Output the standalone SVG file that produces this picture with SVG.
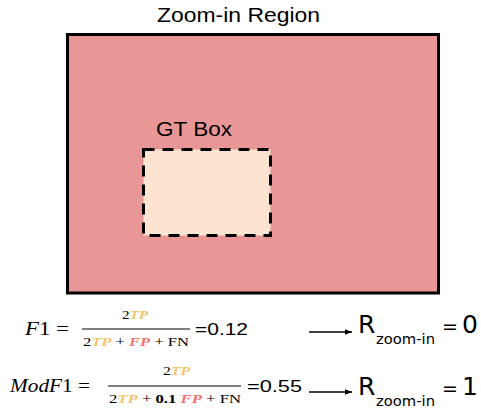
<svg xmlns="http://www.w3.org/2000/svg" width="481" height="413" viewBox="0 0 481 413">
<style>
.sans{font-family:"Liberation Sans",Arial,sans-serif;fill:#000}
.math{font-family:"Liberation Serif","DejaVu Serif",serif;fill:#000}
.it{font-style:italic}
.tp{fill:#F2C56E;font-style:italic;font-weight:bold}
.fp{fill:#F07272;font-style:italic;font-weight:bold}
.r{font-family:"DejaVu Sans","Open Sans",sans-serif;fill:#000}
.conn{stroke:#000;stroke-width:1.3;fill:none}
</style>
<defs>
<marker id="ah" viewBox="0 0 10 10" refX="10" refY="5" markerWidth="7" markerHeight="7" markerUnits="userSpaceOnUse" orient="auto">
<path d="M0,1 L10,5 L0,9 z" fill="#000"/>
</marker>
</defs>
<g id="zoom-region">
<rect x="67.5" y="34.5" width="371" height="258.5" fill="#E99696" stroke="#000" stroke-width="3"/>
<text class="sans" x="238.5" y="22" font-size="20" text-anchor="middle" textLength="163" lengthAdjust="spacingAndGlyphs">Zoom-in Region</text>
</g>
<g id="gt-box">
<rect x="143.5" y="149.5" width="127" height="86" fill="#FCE4D0" stroke="#000" stroke-width="3" stroke-dasharray="11 8"/>
<text class="sans" x="156" y="136" font-size="20" textLength="76" lengthAdjust="spacingAndGlyphs">GT Box</text>
</g>
<g id="f1">
<text class="math" x="25" y="335" font-size="19.5" textLength="44" lengthAdjust="spacingAndGlyphs"><tspan class="it">F</tspan>1 =</text>
<line x1="82" y1="329" x2="190" y2="329" stroke="#000" stroke-width="1"/>
<text class="math" x="122" y="319" font-size="12.5" textLength="26" lengthAdjust="spacingAndGlyphs">2<tspan class="tp">TP</tspan></text>
<text class="math" x="83" y="346" font-size="12.5" textLength="106" lengthAdjust="spacingAndGlyphs">2<tspan class="tp">TP</tspan> + <tspan class="fp">FP</tspan> + FN</text>
<text class="sans" x="195" y="335" font-size="17" textLength="53" lengthAdjust="spacingAndGlyphs">=0.12</text>
</g>
<g id="r1">
<text class="r" x="358" y="333" font-size="25">R</text>
<text class="r" x="376" y="344" font-size="14" textLength="59" lengthAdjust="spacingAndGlyphs">zoom-in</text>
<text class="r" x="442" y="333" font-size="19">=</text>
<text class="r" x="462" y="333" font-size="25">0</text>
</g>
<g id="modf1">
<text class="math" x="10" y="392" font-size="19.5" textLength="80" lengthAdjust="spacingAndGlyphs"><tspan class="it">ModF</tspan>1 =</text>
<line x1="108" y1="386" x2="241" y2="386" stroke="#000" stroke-width="1"/>
<text class="math" x="163" y="375" font-size="12.5" textLength="27" lengthAdjust="spacingAndGlyphs">2<tspan class="tp">TP</tspan></text>
<text class="math" x="109" y="403" font-size="12.5" textLength="132" lengthAdjust="spacingAndGlyphs">2<tspan class="tp">TP</tspan> + <tspan font-weight="bold">0.1</tspan> <tspan class="fp">FP</tspan> + FN</text>
<text class="sans" x="247" y="392" font-size="17" textLength="55" lengthAdjust="spacingAndGlyphs">=0.55</text>
</g>
<g id="r2">
<text class="r" x="358" y="395" font-size="25">R</text>
<text class="r" x="376" y="406" font-size="14" textLength="59" lengthAdjust="spacingAndGlyphs">zoom-in</text>
<text class="r" x="442" y="395" font-size="19">=</text>
<text class="r" x="462" y="395" font-size="25">1</text>
</g>
<g id="connectors">
<line class="conn" x1="309" y1="332" x2="352" y2="332" marker-end="url(#ah)"/>
<line class="conn" x1="309" y1="392" x2="352" y2="392" marker-end="url(#ah)"/>
</g>
</svg>
